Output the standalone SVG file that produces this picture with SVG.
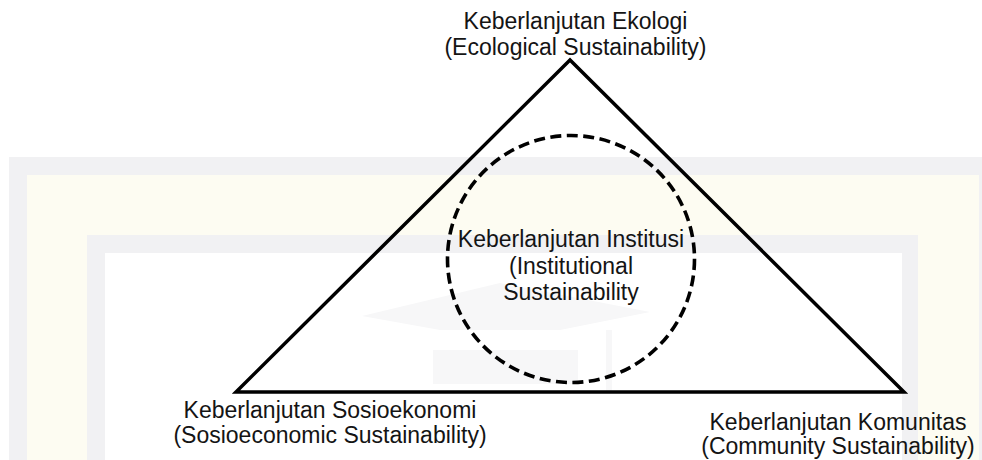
<svg xmlns="http://www.w3.org/2000/svg" width="982" height="460" viewBox="0 0 982 460">
  <style>
    .lbl { font-family: "Liberation Sans", Arial, sans-serif; font-size: 23px; fill: #141414; text-anchor: middle; }
    .tri { fill: none; stroke: #000; stroke-width: 3.5; stroke-linejoin: miter; stroke-miterlimit: 10; }
    .circ { fill: none; stroke: #000; stroke-width: 3.6; stroke-dasharray: 11 5.5; }
    .wm-grey { fill: #f1f1f3; }
    .wm-cream { fill: #fdfcf2; }
    .wm-faint { fill: #f7f7f8; }
  </style>
  <rect x="0" y="0" width="982" height="460" fill="#ffffff"/>
  <g id="watermark">
    <rect class="wm-grey" x="9" y="157" width="973" height="303"/>
    <rect class="wm-cream" x="27" y="175" width="952" height="285"/>
    <rect class="wm-grey" x="87" y="235" width="831" height="225"/>
    <rect x="105" y="253" width="797" height="207" fill="#ffffff"/>
    <polygon class="wm-faint" points="362,316 500,283 650,312 560,330 440,330"/>
    <rect class="wm-faint" x="433" y="350" width="145" height="34"/>
    <rect class="wm-faint" x="606" y="330" width="6" height="62"/>
  </g>
  <g id="connectors">
    <polygon id="triangle" class="tri" points="570,60 236,392 904,392"/>
  </g>
  <g id="node-institusi">
    <circle class="circ" cx="571" cy="259" r="123.5"/>
    <text class="lbl" x="571" y="247">Keberlanjutan Institusi</text>
    <text class="lbl" x="571" y="274">(Institutional</text>
    <text class="lbl" x="571" y="300">Sustainability</text>
  </g>
  <g id="node-ekologi">
    <text class="lbl" x="575.5" y="29">Keberlanjutan Ekologi</text>
    <text class="lbl" x="575.5" y="55">(Ecological Sustainability)</text>
  </g>
  <g id="node-sosioekonomi">
    <text class="lbl" x="330" y="418">Keberlanjutan Sosioekonomi</text>
    <text class="lbl" x="330" y="443">(Sosioeconomic Sustainability)</text>
  </g>
  <g id="node-komunitas">
    <text class="lbl" x="838" y="430">Keberlanjutan Komunitas</text>
    <text class="lbl" x="838" y="454">(Community Sustainability)</text>
  </g>
</svg>
